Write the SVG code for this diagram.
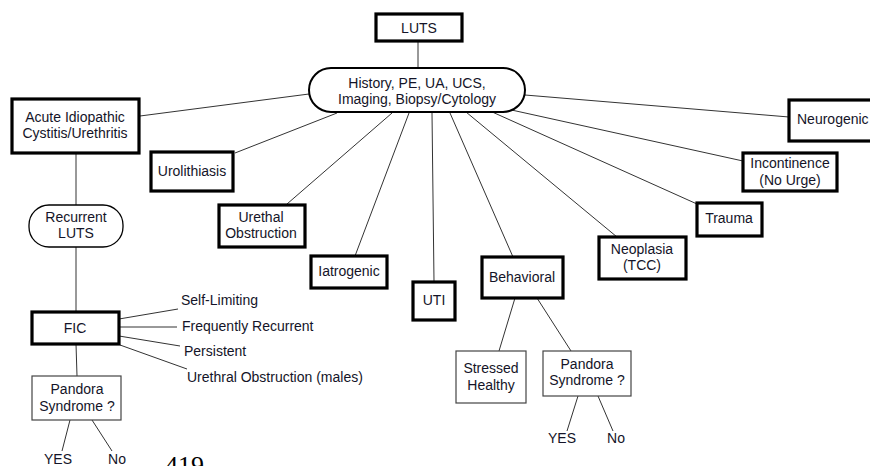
<svg xmlns="http://www.w3.org/2000/svg" width="870" height="466" viewBox="0 0 870 466">
<style>
text{font-family:"Liberation Sans",Arial,sans-serif;font-size:14px;fill:#141428;text-anchor:middle;dominant-baseline:central}
.lbl{text-anchor:start}
.tb{fill:#fff;stroke:#000;stroke-width:3.2}
.thin{fill:#fff;stroke:#444;stroke-width:1.2}
.conn line{stroke:#333;stroke-width:1}
</style>
<rect width="870" height="466" fill="#fff"/>
<g class="conn" id="connectors">
<line x1="418" y1="42" x2="418" y2="68"/>
<line x1="309" y1="94" x2="140" y2="116"/>
<line x1="337" y1="113" x2="235" y2="153"/>
<line x1="392" y1="113" x2="287" y2="204"/>
<line x1="409" y1="113" x2="355" y2="256"/>
<line x1="432" y1="113" x2="434" y2="282"/>
<line x1="450" y1="113" x2="513" y2="257"/>
<line x1="466" y1="112" x2="617" y2="237"/>
<line x1="490" y1="111" x2="697" y2="204"/>
<line x1="507" y1="109" x2="743" y2="161"/>
<line x1="525" y1="95" x2="789" y2="117"/>
<line x1="76" y1="153" x2="76" y2="205"/>
<line x1="76" y1="247" x2="76" y2="312"/>
<line x1="76" y1="344" x2="77" y2="376"/>
<line x1="119" y1="319" x2="178" y2="309"/>
<line x1="119" y1="327" x2="177" y2="327"/>
<line x1="119" y1="336" x2="180" y2="346"/>
<line x1="120" y1="345" x2="187" y2="369"/>
<line x1="70" y1="420" x2="62" y2="451"/>
<line x1="92" y1="420" x2="112" y2="451"/>
<line x1="515" y1="298" x2="499" y2="351"/>
<line x1="537" y1="298" x2="571" y2="351"/>
<line x1="578" y1="396" x2="567" y2="431"/>
<line x1="598" y1="396" x2="613" y2="431"/>
</g>
<g id="luts"><rect class="tb" x="376" y="14" width="86" height="27"/><text x="419" y="28">LUTS</text></g>
<g id="history"><rect x="309" y="68" width="216" height="44" rx="22" ry="22" fill="#fff" stroke="#000" stroke-width="2"/><text x="417" y="83">History, PE, UA, UCS,</text><text x="417" y="99">Imaging, Biopsy/Cytology</text></g>
<g id="acute"><rect class="tb" x="12" y="99" width="127" height="54"/><text x="75" y="117">Acute Idiopathic</text><text x="75" y="133">Cystitis/Urethritis</text></g>
<g id="urolithiasis"><rect class="tb" x="151" y="152" width="82" height="39"/><text x="192" y="171">Urolithiasis</text></g>
<g id="urethal"><rect class="tb" x="219" y="205" width="86" height="42"/><text x="261" y="217">Urethal</text><text x="261" y="233">Obstruction</text></g>
<g id="iatrogenic"><rect class="tb" x="311" y="256" width="76" height="32"/><text x="349" y="271">Iatrogenic</text></g>
<g id="uti"><rect class="tb" x="413" y="282" width="42" height="38"/><text x="434" y="300">UTI</text></g>
<g id="behavioral"><rect class="tb" x="482" y="257" width="81" height="41"/><text x="522" y="277">Behavioral</text></g>
<g id="neoplasia"><rect class="tb" x="599" y="237" width="87" height="42"/><text x="642" y="249">Neoplasia</text><text x="642" y="265">(TCC)</text></g>
<g id="trauma"><rect class="tb" x="697" y="203" width="65" height="33"/><text x="729" y="218">Trauma</text></g>
<g id="incontinence"><rect class="tb" x="743" y="153" width="94" height="38"/><text x="790" y="163">Incontinence</text><text x="790" y="180">(No Urge)</text></g>
<g id="neurogenic"><rect class="tb" x="789" y="100" width="84" height="41"/><text class="lbl" x="797" y="119">Neurogenic</text></g>
<g id="recurrent"><rect x="29" y="205" width="94" height="42" rx="20" ry="20" fill="#fff" stroke="#000" stroke-width="1.3"/><text x="76" y="217">Recurrent</text><text x="76" y="233">LUTS</text></g>
<g id="fic"><rect class="tb" x="32" y="312" width="87" height="32"/><text x="75" y="328">FIC</text></g>
<g id="fic-labels">
<text class="lbl" x="181" y="300">Self-Limiting</text>
<text class="lbl" x="182" y="326">Frequently Recurrent</text>
<text class="lbl" x="184" y="351">Persistent</text>
<text class="lbl" x="187" y="377">Urethral Obstruction (males)</text>
</g>
<g id="pandora-left"><rect class="thin" x="32" y="376" width="89" height="44"/><text x="77" y="389">Pandora</text><text x="77" y="406">Syndrome ?</text></g>
<g id="yes-left"><text x="58" y="459">YES</text></g>
<g id="no-left"><text x="117" y="459">No</text></g>
<g id="stressed"><rect class="thin" x="456" y="351" width="70" height="52"/><text x="491" y="368">Stressed</text><text x="491" y="385">Healthy</text></g>
<g id="pandora-right"><rect class="thin" x="543" y="351" width="88" height="45"/><text x="587" y="364">Pandora</text><text x="587" y="380">Syndrome ?</text></g>
<g id="yes-right"><text x="562" y="438">YES</text></g>
<g id="no-right"><text x="616" y="438">No</text></g>
<text x="165" y="474" style="font-family:'Liberation Serif',serif;font-size:26px;text-anchor:start;dominant-baseline:auto;fill:#000">419</text>
</svg>
